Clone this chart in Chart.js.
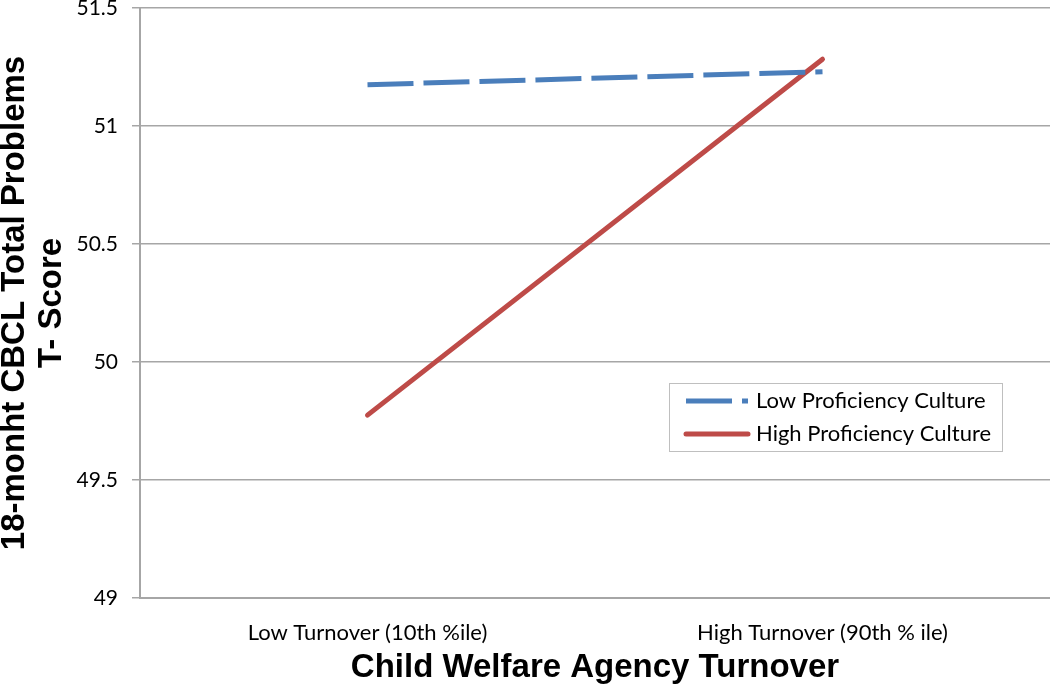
<!DOCTYPE html>
<html>
<head>
<meta charset="utf-8">
<script src="https://cdn.jsdelivr.net/npm/chart.js@4/dist/chart.umd.min.js"></script>
<style>
  html, body { margin: 0; padding: 0; background: #ffffff; }
  #wrap { width: 1050px; height: 689px; position: relative; }
</style>
</head>
<body>
<div id="wrap"><canvas id="c" width="1050" height="689"></canvas></div>
<script>
const categories = ['Low Turnover (10th %ile)', 'High Turnover (90th % ile)'];
const lowProficiency = [51.175, 51.23];
const highProficiency = [49.775, 51.283];
const seriesNames = ['Low Proficiency Culture', 'High Proficiency Culture'];
const yTicks = [49, 49.5, 50, 50.5, 51, 51.5];
const xTitle = 'Child Welfare Agency Turnover';
const yTitle = ['18-monht CBCL Total Problems', 'T- Score'];

const BLUE = '#4A7EBB';
const RED = '#BE4B48';
const GRID = '#a6a6a6';
const LABEL_FONT = 'Lato, "Open Sans", sans-serif';

const legendPlugin = {
  id: 'boxLegend',
  afterDraw(chart) {
    const ctx = chart.ctx;
    const bx = 669, by = 383, bw = 333, bh = 68;
    ctx.save();
    ctx.fillStyle = '#ffffff';
    ctx.fillRect(bx, by, bw, bh);
    ctx.strokeStyle = '#bfbfbf';
    ctx.lineWidth = 1;
    ctx.strokeRect(bx + 0.5, by + 0.5, bw, bh);
    chart.data.datasets.forEach((ds, i) => {
      const y = by + 18 + i * 33;
      ctx.beginPath();
      ctx.strokeStyle = ds.borderColor;
      ctx.lineWidth = ds.borderWidth;
      ctx.lineCap = ds.borderCapStyle || 'butt';
      ctx.setLineDash(ds.borderDash || []);
      ctx.moveTo(686, y);
      ctx.lineTo(748, y);
      ctx.stroke();
      ctx.setLineDash([]);
      ctx.fillStyle = '#000000';
      ctx.font = '22px ' + LABEL_FONT;
      ctx.textBaseline = 'middle';
      ctx.textAlign = 'left';
      ctx.fillText(ds.label, 756, y);
    });
    ctx.restore();
  }
};

new Chart(document.getElementById('c'), {
  type: 'line',
  data: {
    labels: categories,
    datasets: [
      {
        label: seriesNames[0],
        data: lowProficiency,
        borderColor: BLUE,
        backgroundColor: BLUE,
        borderWidth: 5,
        borderDash: [46, 10],
        borderCapStyle: 'butt',
        pointRadius: 0,
        tension: 0
      },
      {
        label: seriesNames[1],
        data: highProficiency,
        borderColor: RED,
        backgroundColor: RED,
        borderWidth: 5,
        borderCapStyle: 'round',
        pointRadius: 0,
        tension: 0
      }
    ]
  },
  options: {
    responsive: false,
    animation: false,
    layout: { padding: { top: 8, right: 0, left: 0, bottom: 0 } },
    plugins: {
      legend: { display: false },
      tooltip: { enabled: false }
    },
    scales: {
      x: {
        offset: true,
        grid: { display: false, drawTicks: false },
        border: { display: true, color: GRID, width: 2 },
        ticks: {
          color: '#000000',
          padding: 22,
          font: { family: LABEL_FONT, size: 22 }
        },
        title: {
          display: true,
          text: xTitle,
          color: '#000000',
          font: { family: '"Liberation Sans", Arial, sans-serif', size: 33, weight: 'bold', lineHeight: 1.15 },
          padding: { top: 0, bottom: 2 }
        },
        afterFit(scale) { scale.height = 91; scale.paddingLeft = 0; scale.paddingRight = 0; }
      },
      y: {
        min: 49,
        max: 51.5,
        afterBuildTicks(scale) { scale.ticks = yTicks.map(v => ({ value: v })); },
        grid: { color: GRID, lineWidth: 1.5, drawTicks: true, tickLength: 8, tickColor: GRID },
        border: { display: true, color: GRID, width: 2 },
        ticks: {
          color: '#000000',
          padding: 14,
          font: { family: LABEL_FONT, size: 21 },
          callback: (v) => String(v)
        },
        title: {
          display: true,
          text: yTitle,
          color: '#000000',
          font: { family: '"Liberation Sans", Arial, sans-serif', size: 33, weight: 'bold', lineHeight: 1.12 },
          padding: { top: -4, bottom: 0 }
        },
        afterFit(scale) { scale.width = 140; scale.paddingTop = 0; scale.paddingBottom = 0; }
      }
    }
  },
  plugins: [legendPlugin]
});
</script>
</body>
</html>
